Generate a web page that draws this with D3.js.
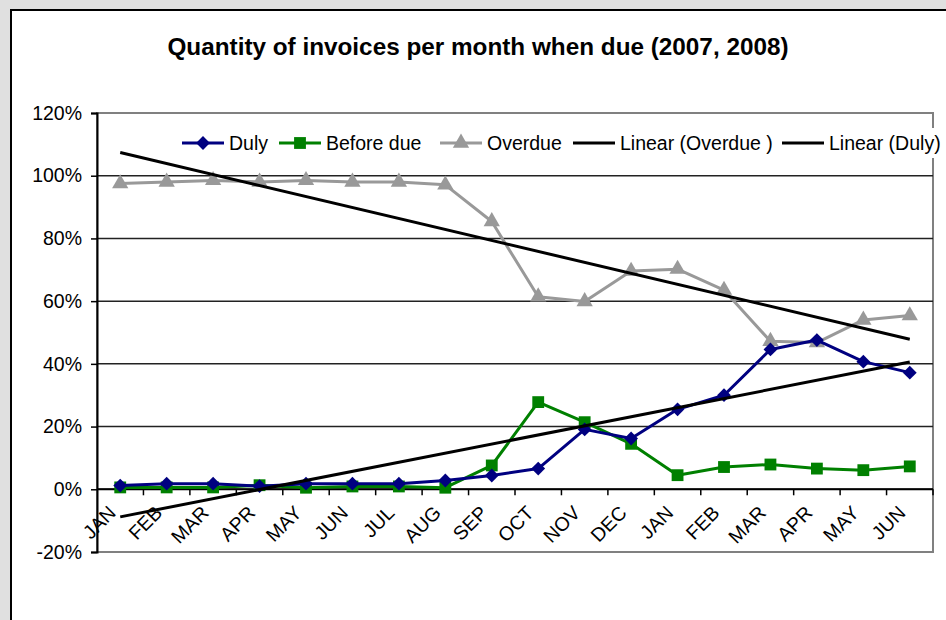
<!DOCTYPE html>
<html>
<head>
<meta charset="utf-8">
<script src="https://cdn.jsdelivr.net/npm/d3@7"></script>
<style>
  body { margin: 0; background: #e0e0e0; overflow: hidden; }
  text { font-family: "Liberation Sans", Arial, sans-serif; }
</style>
</head>
<body>
<svg id="chart"></svg>
<script>
// months 2007 (JAN-DEC) then 2008 (JAN-JUN)
var months = ["JAN","FEB","MAR","APR","MAY","JUN","JUL","AUG","SEP","OCT","NOV","DEC",
              "JAN","FEB","MAR","APR","MAY","JUN"];
var duly      = [1.2, 1.8, 1.8, 1.0, 1.8, 1.8, 1.8, 2.8, 4.4, 6.6, 19.1, 16.2, 25.5, 30.0, 44.6, 47.6, 40.7, 37.2];
var beforeDue = [0.6, 0.6, 0.6, 1.3, 0.5, 0.9, 0.9, 0.5, 7.6, 27.8, 21.4, 14.5, 4.5, 7.1, 7.9, 6.6, 6.1, 7.3];
var overdue   = [97.5, 98.0, 98.5, 98.0, 98.5, 98.0, 98.0, 97.1, 85.4, 61.4, 59.9, 69.6, 70.2, 63.5, 47.2, 46.8, 54.0, 55.4];
var yTicks = [-20, 0, 20, 40, 60, 80, 100, 120];

var W = 946, H = 620;
var svg = d3.select("#chart").attr("width", W).attr("height", H);

// chart area
svg.append("rect").attr("x", 11).attr("y", 10).attr("width", 960).attr("height", 640)
  .attr("fill", "#fff").attr("stroke", "#000").attr("stroke-width", 2);

svg.append("text").attr("x", 478).attr("y", 55).attr("text-anchor", "middle")
  .attr("font-size", 24.3).attr("font-weight", "bold").text("Quantity of invoices per month when due (2007, 2008)");

var pLeft = 97, pRight = 933, pTop = 113, pBottom = 552;
var x = d3.scaleBand().domain(d3.range(months.length)).range([pLeft, pRight]);
var y = d3.scaleLinear().domain([-20, 120]).range([pBottom, pTop]);
var cx = function(i){ return x(i) + x.bandwidth() / 2; };

// plot border
svg.append("rect").attr("x", pLeft).attr("y", pTop).attr("width", pRight - pLeft).attr("height", pBottom - pTop)
  .attr("fill", "none").attr("stroke", "#808080").attr("stroke-width", 2);

// gridlines
svg.append("g").selectAll("line").data(yTicks.filter(function(t){ return t > -20 && t < 120; }))
  .enter().append("line")
  .attr("x1", pLeft).attr("x2", pRight).attr("y1", function(d){ return y(d); }).attr("y2", function(d){ return y(d); })
  .attr("stroke", "#222").attr("stroke-width", 1.5);

// y axis
var yAxis = svg.append("g").attr("transform", "translate(" + pLeft + ",0)")
  .call(d3.axisLeft(y).tickValues(yTicks).tickSize(6).tickPadding(9).tickFormat(function(d){ return d + "%"; }));
yAxis.select(".domain").attr("stroke", "#000").attr("stroke-width", 2);
yAxis.selectAll(".tick line").attr("stroke", "#000").attr("stroke-width", 1.5);
yAxis.selectAll("text").attr("font-size", 19.5).attr("fill", "#000").attr("font-family", "Liberation Sans, Arial, sans-serif");

// x axis at 0%
var x0 = y(0);
svg.append("line").attr("x1", pLeft).attr("x2", pRight).attr("y1", x0).attr("y2", x0)
  .attr("stroke", "#000").attr("stroke-width", 2);
svg.append("g").selectAll("line").data(d3.range(1, months.length + 1)).enter().append("line")
  .attr("x1", function(i){ return pLeft + i * x.step(); }).attr("x2", function(i){ return pLeft + i * x.step(); })
  .attr("y1", x0).attr("y2", x0 + 6).attr("stroke", "#000").attr("stroke-width", 1.5);
svg.append("g").selectAll("text").data(months).enter().append("text")
  .attr("transform", function(d, i){ return "translate(" + (cx(i) - 8) + "," + (x0 + 20) + ") rotate(-45)"; })
  .attr("text-anchor", "end").attr("dy", "0.35em").attr("font-size", 19.5).text(function(d){ return d; });

// linear trend lines (least squares on the series)
function trend(vals){
  var n = vals.length, xs = d3.range(1, n + 1);
  var mx = d3.mean(xs), my = d3.mean(vals);
  var b = d3.sum(xs, function(v, i){ return (v - mx) * (vals[i] - my); }) / d3.sum(xs, function(v){ return (v - mx) * (v - mx); });
  var a = my - b * mx;
  return [a + b * 1, a + b * n];
}

var line = d3.line().x(function(d, i){ return cx(i); }).y(function(d){ return y(d); });

// diamond = square turned 45 degrees
var series = [
  {name: "Overdue", vals: overdue, color: "#999999", marker: d3.symbolTriangle, size: 115, rot: 0},
  {name: "Before due", vals: beforeDue, color: "#008000", marker: d3.symbolSquare, size: 140, rot: 0},
  {name: "Duly", vals: duly, color: "#000080", marker: d3.symbolSquare, size: 95, rot: 45}
];

series.forEach(function(s){
  svg.append("path").datum(s.vals).attr("d", line).attr("fill", "none")
    .attr("stroke", s.color).attr("stroke-width", 3).attr("stroke-linejoin", "round");
  svg.append("g").selectAll("path").data(s.vals).enter().append("path")
    .attr("d", d3.symbol().type(s.marker).size(s.size))
    .attr("transform", function(d, i){ return "translate(" + cx(i) + "," + y(d) + ") rotate(" + s.rot + ")"; })
    .attr("fill", s.color);
});

[overdue, duly].forEach(function(vals){
  var t = trend(vals);
  svg.append("line").attr("x1", cx(0)).attr("x2", cx(vals.length - 1))
    .attr("y1", y(t[0])).attr("y2", y(t[1])).attr("stroke", "#000").attr("stroke-width", 3);
});

// legend
var lg = svg.append("g");
lg.append("rect").attr("x", 176).attr("y", 128).attr("width", 770).attr("height", 30).attr("fill", "#fff");
var legendItems = [
  {label: "Duly", s: series[2], x: 182},
  {label: "Before due", s: series[1], x: 279},
  {label: "Overdue", s: series[0], x: 440},
  {label: "Linear (Overdue )", s: null, x: 573},
  {label: "Linear (Duly)", s: null, x: 782}
];
var ly = 143;
legendItems.forEach(function(it){
  var col = it.s ? it.s.color : "#000";
  lg.append("line").attr("x1", it.x).attr("x2", it.x + 42).attr("y1", ly).attr("y2", ly)
    .attr("stroke", col).attr("stroke-width", 3);
  if (it.s) {
    lg.append("path").attr("d", d3.symbol().type(it.s.marker).size(it.s.size)())
      .attr("transform", "translate(" + (it.x + 21) + "," + ly + ") rotate(" + it.s.rot + ")").attr("fill", col);
  }
  lg.append("text").attr("x", it.x + 47).attr("y", ly).attr("dy", "0.35em")
    .attr("font-size", 19.5).text(it.label);
});
</script>
</body>
</html>
